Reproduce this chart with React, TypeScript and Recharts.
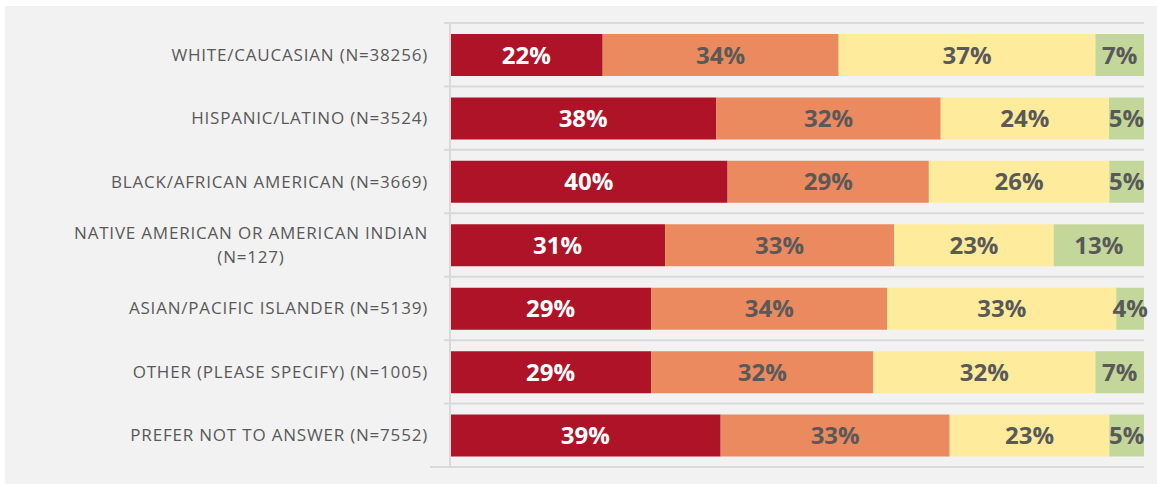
import { Bar, BarChart, CartesianGrid, LabelList, XAxis, YAxis } from "recharts"

const groups = [
  "WHITE/CAUCASIAN (N=38256)",
  "HISPANIC/LATINO (N=3524)",
  "BLACK/AFRICAN AMERICAN (N=3669)",
  "NATIVE AMERICAN OR AMERICAN INDIAN|(N=127)",
  "ASIAN/PACIFIC ISLANDER (N=5139)",
  "OTHER (PLEASE SPECIFY) (N=1005)",
  "PREFER NOT TO ANSWER (N=7552)"
]

const seg1 = [22, 38, 40, 31, 29, 29, 39]
const seg2 = [34, 32, 29, 33, 34, 32, 33]
const seg3 = [37, 24, 26, 23, 33, 32, 23]
const seg4 = [7, 5, 5, 13, 4, 7, 5]

const data = groups.map((name, i) => ({
  name,
  s1: seg1[i],
  s2: seg2[i],
  s3: seg3[i],
  s4: seg4[i]
}))

const FONT = "'Open Sans', 'Noto Sans', sans-serif"
const TEXT = "#595959"
const GRID = "#d9d9d9"
const TICK_SIZE = 17
const SPACING = 0.8

let ctx: CanvasRenderingContext2D | null = null
function textWidth(s: string, size: number) {
  if (!ctx) ctx = document.createElement("canvas").getContext("2d")
  if (!ctx) return s.length * size * 0.6
  ctx.font = `${size}px 'Open Sans'`
  return ctx.measureText(s).width + s.length * SPACING
}

function GroupTick(props: any) {
  const { x, y, payload, index, visibleTicksCount } = props
  const lines: string[] = String(payload.value).split("|")
  const half = payload.offset ?? 0
  const tx = x - 22
  const w = Math.max(...lines.map((l) => textWidth(l, TICK_SIZE)))
  const lh = 24
  const y0 = y - ((lines.length - 1) * lh) / 2
  return (
    <g>
      {half > 0 && (
        <line x1={x - 6} x2={x} y1={y - half} y2={y - half} stroke={GRID} strokeWidth={2} />
      )}
      {half > 0 && index === visibleTicksCount - 1 && (
        <line x1={x - 20} x2={x} y1={y + half} y2={y + half} stroke={GRID} strokeWidth={2} />
      )}
      {lines.map((l, i) => (
        <text
          key={i}
          x={lines.length > 1 ? tx - w / 2 : tx}
          y={y0 + i * lh}
          dy={6}
          textAnchor={lines.length > 1 ? "middle" : "end"}
          fill={TEXT}
          fontSize={TICK_SIZE}
          fontFamily={FONT}
          letterSpacing={SPACING}
        >
          {l}
        </text>
      ))}
    </g>
  )
}

const labelStyle = { fontSize: 24, fontWeight: 700, fontFamily: FONT }

export default function App() {
  return (
    <div
      style={{
        position: "absolute",
        left: 5,
        top: 6,
        width: 1152,
        height: 478,
        background: "#f2f2f2"
      }}
    >
      <BarChart
        width={1152}
        height={478}
        data={data}
        layout="vertical"
        stackOffset="expand"
        margin={{ top: 17, right: 13, bottom: 17, left: 0 }}
      >
        <CartesianGrid
          vertical={false}
          stroke={GRID}
          strokeWidth={2}
          horizontalCoordinatesGenerator={({ offset }: any) =>
            groups.concat([""]).map((_, i) => offset.top + (i * offset.height) / groups.length)
          }
        />
        <XAxis type="number" domain={[0, 1]} hide />
        <YAxis
          type="category"
          dataKey="name"
          width={445}
          tickLine={false}
          tickSize={0}
          tickMargin={0}
          axisLine={{ stroke: GRID, strokeWidth: 2 }}
          tick={<GroupTick />}
          interval={0}
        />
        <Bar dataKey="s1" stackId="a" fill="#ae1328" barSize={42} isAnimationActive={false}>
          <LabelList dataKey="s1" position="center" fill="#ffffff" style={labelStyle} formatter={(v: any) => `${v}%`} />
        </Bar>
        <Bar dataKey="s2" stackId="a" fill="#eb8a5e" barSize={42} isAnimationActive={false}>
          <LabelList dataKey="s2" position="center" fill={TEXT} style={labelStyle} formatter={(v: any) => `${v}%`} />
        </Bar>
        <Bar dataKey="s3" stackId="a" fill="#ffeb9c" barSize={42} isAnimationActive={false}>
          <LabelList dataKey="s3" position="center" fill={TEXT} style={labelStyle} formatter={(v: any) => `${v}%`} />
        </Bar>
        <Bar dataKey="s4" stackId="a" fill="#c4d79b" barSize={42} isAnimationActive={false}>
          <LabelList dataKey="s4" position="center" fill={TEXT} style={labelStyle} formatter={(v: any) => `${v}%`} />
        </Bar>
      </BarChart>
    </div>
  )
}
